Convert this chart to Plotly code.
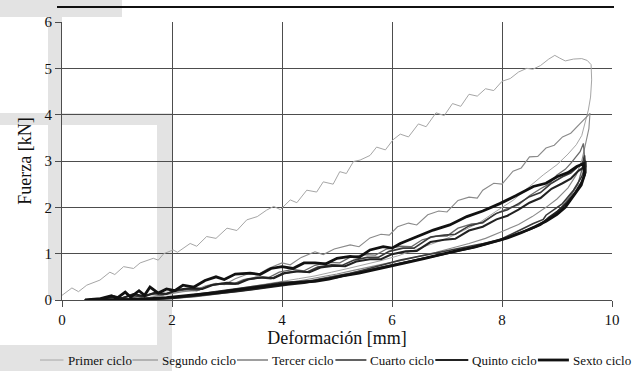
import plotly.graph_objects as go

# ---------------- data ----------------
primer_x = [0.00, 0.18, 0.30, 0.45, 0.69, 0.87, 0.96, 1.12, 1.30, 1.42, 1.66, 1.75, 1.85, 2.02, 2.10, 2.33, 2.45,
            2.63, 2.80, 3.00, 3.18, 3.36, 3.55, 3.72, 3.85, 3.97, 4.15, 4.27, 4.45, 4.63, 4.75, 4.93, 5.05, 5.17,
            5.30, 5.42, 5.60, 5.72, 5.88, 6.02, 6.15, 6.30, 6.48, 6.62, 6.80, 6.95, 7.10, 7.25, 7.40, 7.55, 7.70,
            7.85, 8.00, 8.15, 8.30, 8.45, 8.56, 8.70, 8.85, 8.96, 9.05, 9.15, 9.30, 9.45, 9.55, 9.62,
            9.63, 9.61, 9.57, 9.52, 9.45, 9.35, 9.20, 9.00, 8.75, 8.50, 8.20, 7.90, 7.60, 7.30, 7.00, 6.70, 6.40,
            6.10, 5.80, 5.50, 5.20, 4.90, 4.60, 4.30, 4.00, 3.70, 3.40, 3.10, 2.80, 2.50, 2.20, 1.90, 1.60, 1.30,
            1.00, 0.70]
primer_y = [0.10, 0.26, 0.18, 0.32, 0.43, 0.60, 0.55, 0.72, 0.68, 0.80, 0.90, 0.86, 1.00, 1.08, 1.03, 1.22, 1.16,
            1.37, 1.33, 1.55, 1.50, 1.73, 1.80, 1.94, 2.02, 1.95, 2.16, 2.10, 2.37, 2.33, 2.55, 2.50, 2.77, 2.73,
            2.99, 3.02, 3.12, 3.30, 3.24, 3.46, 3.58, 3.52, 3.80, 3.74, 4.04, 3.98, 4.24, 4.18, 4.44, 4.40, 4.56,
            4.52, 4.72, 4.78, 4.92, 5.00, 4.98, 5.06, 5.20, 5.28, 5.22, 5.16, 5.20, 5.21, 5.17, 5.08,
            4.75, 4.38, 4.10, 3.85, 3.55, 3.35, 3.15, 2.92, 2.70, 2.45, 2.15, 1.92, 1.68, 1.50, 1.33, 1.20, 1.08,
            0.95, 0.85, 0.76, 0.68, 0.60, 0.52, 0.46, 0.40, 0.34, 0.28, 0.22, 0.17, 0.12, 0.08, 0.05, 0.02, 0.01,
            0.00, 0.00]

segundo_x = [0.45, 0.80, 1.10, 1.40, 1.60, 1.80, 2.00, 2.20, 2.40, 2.60, 2.80, 2.95, 3.15, 3.40, 3.55, 3.75, 4.00,
             4.15, 4.35, 4.60, 4.75, 4.95, 5.24, 5.40, 5.60, 5.80, 5.95, 6.10, 6.30, 6.45, 6.65, 6.85, 7.00, 7.20,
             7.40, 7.55, 7.65, 7.85, 8.00, 8.20, 8.35, 8.50, 8.65, 8.80, 8.95, 9.10, 9.25, 9.35, 9.47, 9.60,
             9.58, 9.52, 9.45, 9.35, 9.20, 9.00, 8.80, 8.55, 8.30, 8.00, 7.70, 7.40, 7.10, 6.80, 6.50, 6.20, 5.90,
             5.60, 5.30, 5.00, 4.70, 4.40, 4.10, 3.80, 3.50, 3.20, 2.90, 2.60, 2.30, 2.00, 1.70, 1.40, 1.10, 0.80]
segundo_y = [0.00, 0.01, 0.03, 0.04, 0.06, 0.10, 0.14, 0.18, 0.20, 0.30, 0.36, 0.33, 0.46, 0.57, 0.54, 0.68, 0.80,
             0.76, 0.92, 1.04, 0.98, 1.10, 1.19, 1.15, 1.34, 1.42, 1.40, 1.58, 1.66, 1.62, 1.84, 1.92, 1.90, 2.15,
             2.22, 2.20, 2.37, 2.52, 2.50, 2.78, 2.85, 3.09, 3.10, 3.28, 3.34, 3.52, 3.60, 3.72, 3.88, 4.03,
             3.70, 3.35, 3.00, 2.70, 2.42, 2.18, 2.00, 1.80, 1.63, 1.48, 1.33, 1.22, 1.12, 1.03, 0.95, 0.86, 0.79,
             0.72, 0.64, 0.56, 0.49, 0.43, 0.37, 0.31, 0.26, 0.21, 0.16, 0.12, 0.08, 0.05, 0.03, 0.01, 0.00, 0.00]

tercer_x = [0.50, 0.80, 1.00, 1.20, 1.40, 1.60, 1.80, 2.00, 2.25, 2.45, 2.65, 2.90, 3.10, 3.30, 3.55, 3.75, 3.95,
            4.20, 4.40, 4.60, 4.85, 5.05, 5.25, 5.50, 5.70, 5.90, 6.15, 6.35, 6.55, 6.80, 7.00, 7.20, 7.45, 7.65,
            7.85, 8.10, 8.30, 8.50, 8.70, 8.85, 9.00, 9.15, 9.25, 9.35, 9.42, 9.48,
            9.50, 9.45, 9.38, 9.25, 9.10, 8.90, 8.65, 8.40, 8.10, 7.80, 7.50, 7.20, 6.90, 6.60, 6.30, 6.00, 5.70,
            5.40, 5.10, 4.80, 4.50, 4.20, 3.90, 3.60, 3.30, 3.00, 2.70, 2.40, 2.10, 1.80, 1.50, 1.20, 0.90]
tercer_y = [0.00, 0.02, 0.05, 0.03, 0.08, 0.12, 0.10, 0.17, 0.22, 0.20, 0.30, 0.36, 0.34, 0.44, 0.50, 0.48, 0.60,
            0.66, 0.63, 0.75, 0.81, 0.80, 0.93, 0.98, 0.97, 1.10, 1.16, 1.15, 1.30, 1.38, 1.38, 1.55, 1.64, 1.66,
            1.84, 1.98, 2.05, 2.25, 2.40, 2.50, 2.70, 2.82, 2.95, 3.10, 3.20, 3.38,
            3.10, 2.80, 2.50, 2.25, 2.02, 1.80, 1.62, 1.48, 1.35, 1.24, 1.14, 1.06, 0.98, 0.91, 0.84, 0.76, 0.69,
            0.62, 0.55, 0.48, 0.42, 0.36, 0.30, 0.25, 0.20, 0.15, 0.11, 0.07, 0.04, 0.02, 0.01, 0.00, 0.00]

cuarto_x = [0.40, 0.70, 0.90, 1.05, 1.25, 1.45, 1.65, 1.85, 2.05, 2.30, 2.50, 2.70, 2.95, 3.15, 3.35, 3.60, 3.80,
            4.00, 4.25, 4.45, 4.65, 4.90, 5.10, 5.30, 5.55, 5.75, 5.95, 6.20, 6.40, 6.70, 6.95, 7.15, 7.40, 7.65,
            7.90, 8.10, 8.30, 8.50, 8.70, 8.90, 9.10, 9.25, 9.38, 9.47, 9.50,
            9.52, 9.45, 9.30, 9.10, 8.95, 8.80, 8.75, 8.57, 8.33, 7.96, 7.66, 7.36, 7.05, 6.75, 6.45, 6.15, 5.84,
            5.55, 5.24, 4.93, 4.60, 4.30, 4.00, 3.70, 3.42, 3.10, 2.80, 2.50, 2.20, 1.90, 1.60, 1.30, 1.00, 0.70]
cuarto_y = [0.00, 0.02, 0.06, 0.03, 0.10, 0.07, 0.14, 0.12, 0.20, 0.24, 0.22, 0.32, 0.35, 0.34, 0.44, 0.48, 0.46,
            0.57, 0.62, 0.60, 0.71, 0.76, 0.75, 0.86, 0.92, 0.92, 1.05, 1.12, 1.12, 1.36, 1.40, 1.42, 1.60, 1.68,
            1.87, 1.95, 2.08, 2.23, 2.32, 2.52, 2.66, 2.74, 2.88, 2.96, 3.12,
            2.88, 2.66, 2.37, 2.08, 1.95, 1.83, 1.74, 1.65, 1.51, 1.30, 1.22, 1.15, 1.07, 1.00, 0.93, 0.86, 0.76,
            0.66, 0.57, 0.50, 0.42, 0.40, 0.38, 0.33, 0.29, 0.23, 0.18, 0.13, 0.08, 0.05, 0.03, 0.01, 0.00, 0.00]

quinto_x = [0.45, 0.75, 0.95, 1.10, 1.30, 1.50, 1.70, 1.90, 2.10, 2.35, 2.55, 2.75, 3.00, 3.20, 3.40, 3.65, 3.85,
            4.05, 4.30, 4.50, 4.70, 4.95, 5.15, 5.35, 5.60, 5.80, 6.00, 6.25, 6.45, 6.70, 6.95, 7.15, 7.40, 7.65,
            7.90, 8.10, 8.30, 8.50, 8.70, 8.90, 9.10, 9.25, 9.38, 9.47, 9.52,
            9.52, 9.45, 9.32, 9.18, 9.00, 8.85, 8.70, 8.50, 8.25, 8.00, 7.70, 7.40, 7.10, 6.80, 6.50, 6.20, 5.90,
            5.60, 5.30, 5.00, 4.70, 4.40, 4.10, 3.80, 3.50, 3.20, 2.90, 2.60, 2.30, 2.00, 1.70, 1.40, 1.10, 0.80]
quinto_y = [0.00, 0.03, 0.08, 0.04, 0.13, 0.08, 0.16, 0.13, 0.22, 0.26, 0.24, 0.33, 0.37, 0.35, 0.45, 0.49, 0.47,
            0.58, 0.62, 0.60, 0.70, 0.74, 0.73, 0.83, 0.88, 0.88, 0.99, 1.05, 1.06, 1.25, 1.30, 1.32, 1.50, 1.58,
            1.74, 1.82, 1.95, 2.10, 2.20, 2.40, 2.52, 2.62, 2.78, 2.85, 3.00,
            2.75, 2.55, 2.30, 2.10, 1.90, 1.78, 1.62, 1.52, 1.42, 1.30, 1.20, 1.11, 1.03, 0.96, 0.88, 0.80, 0.72,
            0.64, 0.56, 0.49, 0.44, 0.37, 0.33, 0.28, 0.24, 0.19, 0.15, 0.11, 0.07, 0.04, 0.02, 0.01, 0.00, 0.00]

sexto_x = [0.42, 0.70, 0.90, 1.00, 1.15, 1.25, 1.40, 1.50, 1.60, 1.75, 1.90, 2.05, 2.20, 2.40, 2.60, 2.80, 2.95,
           3.15, 3.42, 3.60, 3.80, 4.00, 4.20, 4.40, 4.60, 4.80, 5.00, 5.24, 5.40, 5.60, 5.84, 6.00, 6.15, 6.45,
           6.75, 7.05, 7.36, 7.65, 7.96, 8.25, 8.57, 8.80, 9.00, 9.20, 9.36, 9.48,
           9.50, 9.44, 9.30, 9.15, 9.00, 8.80, 8.60, 8.35, 8.10, 7.80, 7.50, 7.20, 6.90, 6.60, 6.30, 6.00, 5.70,
           5.40, 5.10, 4.85, 4.60, 4.30, 4.00, 3.70, 3.40, 3.10, 2.80, 2.50, 2.20, 1.90, 1.60, 1.30, 1.00, 0.60]
sexto_y = [0.00, 0.03, 0.09, 0.04, 0.17, 0.06, 0.20, 0.10, 0.28, 0.15, 0.24, 0.20, 0.32, 0.28, 0.42, 0.50, 0.44,
           0.56, 0.58, 0.55, 0.68, 0.72, 0.68, 0.80, 0.80, 0.78, 0.90, 0.94, 0.92, 1.08, 1.15, 1.12, 1.22, 1.36,
           1.51, 1.62, 1.80, 1.92, 2.08, 2.25, 2.45, 2.52, 2.66, 2.75, 2.88, 2.94,
           2.70, 2.48, 2.25, 2.00, 1.85, 1.70, 1.58, 1.45, 1.34, 1.24, 1.14, 1.07, 0.98, 0.90, 0.82, 0.74, 0.66,
           0.58, 0.52, 0.45, 0.40, 0.38, 0.34, 0.30, 0.26, 0.21, 0.16, 0.12, 0.08, 0.05, 0.03, 0.01, 0.00, 0.00]

series_names = ["Primer ciclo", "Segundo ciclo", "Tercer ciclo", "Cuarto ciclo", "Quinto ciclo", "Sexto ciclo"]
series_x = [primer_x, segundo_x, tercer_x, cuarto_x, quinto_x, sexto_x]
series_y = [primer_y, segundo_y, tercer_y, cuarto_y, quinto_y, sexto_y]

x_ticks = [0, 2, 4, 6, 8, 10]
y_ticks = [0, 1, 2, 3, 4, 5, 6]

# ---------------- style ----------------
colors = ["#a6a6a6", "#8a8a8a", "#6a6a6a", "#3a3a3a", "#222222", "#111111"]
widths = [1.0, 1.1, 1.3, 1.6, 2.1, 2.8]
SERIF = "Liberation Serif"
TXT = "#111111"
GRID = "#4d4d4d"
W, H = 634, 371
L, R, T, B = 62, 612, 22, 300   # plot area in pixels


def px(xp):
    return (xp - L) / (R - L)


def py(yp):
    return (B - yp) / (B - T)


fig = go.Figure()
for name, xs, ys, c, w in zip(series_names, series_x, series_y, colors, widths):
    fig.add_trace(go.Scatter(x=xs, y=ys, mode="lines", name=name,
                             line=dict(color=c, width=w), showlegend=False))

shapes = []
# light grey scan bands
grey = "#e3e3e3"
for (x0, y0, x1, y1) in [(0, 0, 122, 17), (48, 17, 62, 300), (0, 113, 172, 125),
                         (157, 125, 172, 371), (0, 345, 157, 371)]:
    shapes.append(dict(type="rect", xref="paper", yref="paper", x0=px(x0), x1=px(x1),
                       y0=py(y1), y1=py(y0), fillcolor=grey, line=dict(width=0), layer="below"))
# thick rule above the chart
shapes.append(dict(type="line", xref="paper", yref="paper", x0=px(57), x1=px(614),
                   y0=py(7), y1=py(7), line=dict(color="#111111", width=2)))

# manual legend (single row)
leg_y = 360
leg_lines = [(40, 63.5), (132.4, 158), (237, 268), (335.4, 366.4), (435.3, 468.3), (537.9, 568.9)]
annotations = []
for (a, b), name, c, w in zip(leg_lines, series_names, colors, widths):
    shapes.append(dict(type="line", xref="paper", yref="paper", x0=px(a), x1=px(b),
                       y0=py(leg_y), y1=py(leg_y), line=dict(color=c, width=w)))
    annotations.append(dict(text=name, xref="paper", yref="paper", x=px(b + 2), y=py(leg_y),
                            xanchor="left", yanchor="middle", showarrow=False,
                            font=dict(family=SERIF, size=13, color=TXT)))

axis_common = dict(showgrid=True, gridcolor=GRID, gridwidth=1, showline=True,
                   linecolor=GRID, linewidth=1, ticks="outside", ticklen=6,
                   tickcolor=GRID, zeroline=False,
                   tickfont=dict(family=SERIF, size=15, color=TXT))

fig.update_layout(
    width=W, height=H,
    margin=dict(l=L, r=W - R, t=T, b=H - B),
    paper_bgcolor="white", plot_bgcolor="rgba(0,0,0,0)",
    showlegend=False,
    shapes=shapes, annotations=annotations,
    xaxis=dict(range=[0, 10], tickvals=x_ticks,
               title=dict(text="Deformación [mm]", standoff=4,
                          font=dict(family=SERIF, size=18, color=TXT)),
               **axis_common),
    yaxis=dict(range=[0, 6], tickvals=y_ticks,
               title=dict(text="Fuerza [kN]", standoff=8,
                          font=dict(family=SERIF, size=18, color=TXT)),
               **axis_common),
)

fig.write_html("out.html")
